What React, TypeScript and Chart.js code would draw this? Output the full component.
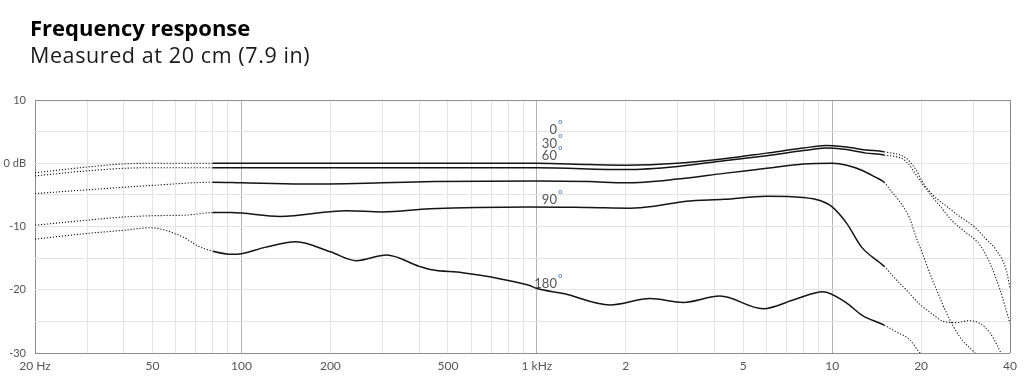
import React, { useEffect, useRef } from 'react';
import { Chart, registerables } from 'chart.js';

Chart.register(...registerables);

// ---- Axis ticks ----
const xTickValues = [20, 30, 40, 50, 60, 70, 80, 90, 100, 200, 300, 400, 500, 600, 700, 800, 900, 1000, 2000, 3000, 4000, 5000, 6000, 7000, 8000, 9000, 10000, 20000, 30000, 40000];
const xLabelValues = [20, 50, 100, 200, 500, 1000, 2000, 5000, 10000, 20000, 40000];
const xLabelTexts = ['20 Hz', '50', '100', '200', '500', '1 kHz', '2', '5', '10', '20', '40'];
const yLabelValues = [10, 0, -10, -20, -30];
const yLabelTexts = ['10', '0 dB', '-10', '-20', '-30'];

// ---- Series (frequency in Hz, level in dB) ----
const freq0 = [20, 30, 40, 50, 80, 200, 500, 1000, 1500, 2000, 3000, 4300, 6000, 8000, 9500, 11000, 13000, 15000, 17800, 19200, 20200, 21900, 24400, 27000, 30400, 32900, 35900, 38800, 40000];
const db0 = [-1.5, -0.6, -0.1, 0, 0, 0, 0, 0, -0.2, -0.3, 0, 0.7, 1.6, 2.4, 2.8, 2.6, 2.1, 1.8, 0.8, -1.0, -2.9, -5.0, -6.8, -8.4, -10.1, -11.8, -13.7, -16.8, -19.7];

const freq30 = [20, 30, 40, 50, 80, 200, 500, 1000, 2000, 3000, 4300, 6000, 8000, 9500, 11000, 13000, 15000, 17800, 19200, 20900, 23200, 25600, 28100, 31600, 34200, 37000, 40000];
const db30 = [-2.0, -1.2, -0.8, -0.7, -0.7, -0.7, -0.7, -0.7, -1.0, -0.5, 0.4, 1.2, 2.0, 2.4, 2.2, 1.6, 1.3, 0.3, -1.8, -4.2, -6.8, -9.2, -10.8, -12.9, -15.8, -20.0, -25.3];

const freq60 = [20, 30, 50, 80, 100, 160, 300, 450, 1000, 1500, 2000, 3000, 4300, 6000, 8000, 10000, 11200, 12600, 14000, 15000, 15700, 16900, 18300, 19200, 20200, 21400, 22800, 24400, 27000, 30000, 32000];
const db60 = [-4.8, -4.2, -3.5, -3.0, -3.1, -3.3, -3.1, -2.9, -2.8, -2.9, -3.1, -2.5, -1.6, -0.8, -0.1, 0.0, -0.3, -1.1, -2.2, -3.0, -4.2, -6.0, -8.7, -11.6, -14.2, -17.4, -20.5, -23.7, -27.4, -29.7, -31];

const freq90 = [20, 30, 40, 50, 65, 80, 92, 135, 227, 300, 435, 940, 1500, 2070, 2500, 3200, 4300, 6000, 7960, 9100, 10000, 11200, 12600, 15000, 16100, 17800, 19600, 21900, 23800, 26400, 29000, 31600, 34200, 37000, 38500];
const db90 = [-9.8, -9.0, -8.5, -8.3, -8.2, -7.8, -7.8, -8.4, -7.5, -7.7, -7.2, -6.9, -7.0, -7.1, -6.8, -6.0, -5.7, -5.2, -5.4, -5.9, -6.9, -9.5, -13.3, -16.3, -17.9, -20.0, -22.1, -23.9, -25.0, -25.2, -24.9, -25.3, -26.8, -29.7, -31.5];

const freq180 = [20, 30, 40, 49, 63, 72, 80, 93, 100, 120, 153, 200, 245, 310, 400, 435, 560, 700, 940, 1000, 1230, 1770, 2420, 3130, 4170, 5830, 7500, 9300, 11200, 12600, 15000, 16400, 18300, 19600, 21000];
const db180 = [-12.0, -11.1, -10.6, -10.2, -11.6, -13.2, -13.9, -14.4, -14.3, -13.3, -12.4, -14.0, -15.4, -14.5, -16.3, -16.8, -17.3, -18.0, -19.3, -19.8, -20.6, -22.4, -21.4, -22.0, -21.0, -23.0, -21.5, -20.3, -22.1, -24.0, -25.6, -26.6, -27.9, -29.7, -31];

// measured (solid) range; outside it the curves are dotted
const solidFrom = 80;
const solidTo = 15000;

// ---- Angle labels ----
const angleNames = ['0', '30', '60', '90', '180'];
const angleLabelFreq = 1170;
const angleLabelDb = [5.4, 3.2, 1.3, -5.7, -19.0];

const seriesFreqs = [freq0, freq30, freq60, freq90, freq180];
const seriesDbs = [db0, db30, db60, db90, db180];

const isDotted = (c: any) => c.p0.parsed.x < solidFrom || c.p1.parsed.x > solidTo;

const angleLabelPlugin = {
  id: 'angleLabels',
  afterDatasetsDraw(chart: any) {
    const { ctx, scales } = chart;
    const xs = scales.x;
    const ys = scales.y;
    ctx.save();
    angleNames.forEach((name, i) => {
      const px = xs.getPixelForValue(angleLabelFreq);
      const py = ys.getPixelForValue(angleLabelDb[i]);
      ctx.font = '13px Lato';
      ctx.fillStyle = '#555';
      ctx.textAlign = 'right';
      ctx.textBaseline = 'alphabetic';
      ctx.fillText(name, px, py + 4.5);
      ctx.font = '11px Lato';
      ctx.fillStyle = '#3d78b5';
      ctx.textAlign = 'left';
      ctx.fillText('°', px + 1, py - 0.5);
    });
    ctx.restore();
  },
};

export default function App() {
  const canvasRef = useRef<HTMLCanvasElement | null>(null);

  useEffect(() => {
    const canvas = canvasRef.current;
    if (!canvas) return;
    Chart.defaults.font.family = 'Lato, "Open Sans", sans-serif';

    const chart = new Chart(canvas, {
      type: 'line',
      data: {
        datasets: seriesFreqs.map((fs, si) => ({
          label: angleNames[si] + '°',
          data: fs.map((f, i) => ({ x: f, y: seriesDbs[si][i] })),
          borderColor: '#141414',
          borderWidth: 1.5,
          borderDash: [],
          pointRadius: 0,
          pointHoverRadius: 0,
          fill: false,
          cubicInterpolationMode: 'monotone',
          segment: {
            borderDash: (c: any) => (isDotted(c) ? [1.2, 1.8] : undefined),
            borderWidth: (c: any) => (isDotted(c) ? 1.1 : undefined),
          },
        })),
      },
      options: {
        responsive: false,
        animation: false,
        devicePixelRatio: 1,
        layout: { padding: { left: 0, top: 100, right: 23, bottom: 0 } },
        plugins: {
          legend: { display: false },
          tooltip: { enabled: false },
          title: { display: false },
        },
        scales: {
          x: {
            type: 'logarithmic',
            min: 20,
            max: 40000,
            afterBuildTicks: (s: any) => {
              s.ticks = xTickValues.map((v) => ({ value: v }));
            },
            afterFit: (s: any) => {
              s.height = 32;
            },
            ticks: {
              autoSkip: false,
              maxRotation: 0,
              minRotation: 0,
              padding: 6,
              color: '#555',
              font: { size: 12 },
              callback: (v: any) => {
                const idx = xLabelValues.indexOf(Number(v));
                return idx >= 0 ? xLabelTexts[idx] : '';
              },
            },
            grid: {
              drawTicks: false,
              lineWidth: 1,
              color: (c: any) => {
                const v = c.tick ? c.tick.value : null;
                if (v === 20 || v === 40000) return '#8c8c8c';
                if (v === 100 || v === 1000 || v === 10000) return '#b4b4b4';
                return '#e4e4e4';
              },
            },
            border: { display: false },
          },
          y: {
            min: -30,
            max: 10,
            afterFit: (s: any) => {
              s.width = 35;
            },
            ticks: {
              stepSize: 5,
              padding: 9,
              color: '#555',
              font: { size: 11 },
              callback: (v: any) => {
                const idx = yLabelValues.indexOf(Number(v));
                return idx >= 0 ? yLabelTexts[idx] : '';
              },
            },
            grid: {
              drawTicks: false,
              lineWidth: 1,
              color: (c: any) => {
                const v = c.tick ? c.tick.value : null;
                if (v === 10 || v === -30) return '#8c8c8c';
                return '#e4e4e4';
              },
            },
            border: { display: false },
          },
        },
      } as any,
      plugins: [angleLabelPlugin],
    });

    return () => {
      chart.destroy();
    };
  }, []);

  return (
    <div style={{ position: 'fixed', left: 0, top: 0, width: 1033, height: 385, background: '#fff', overflow: 'hidden' }}>
      <canvas ref={canvasRef} width={1033} height={385} style={{ position: 'absolute', left: 0, top: 0, width: 1033, height: 385 }} />
      <div style={{ position: 'absolute', left: 30, top: 16, font: 'bold 22px "Open Sans", sans-serif', lineHeight: '22px', color: '#000', whiteSpace: 'nowrap' }}>
        Frequency response
      </div>
      <div style={{ position: 'absolute', left: 30, top: 44, font: '21.5px "Open Sans", sans-serif', lineHeight: '21.5px', letterSpacing: '0.6px', color: '#1a1a1a', whiteSpace: 'nowrap' }}>
        Measured at 20 cm (7.9 in)
      </div>
    </div>
  );
}
